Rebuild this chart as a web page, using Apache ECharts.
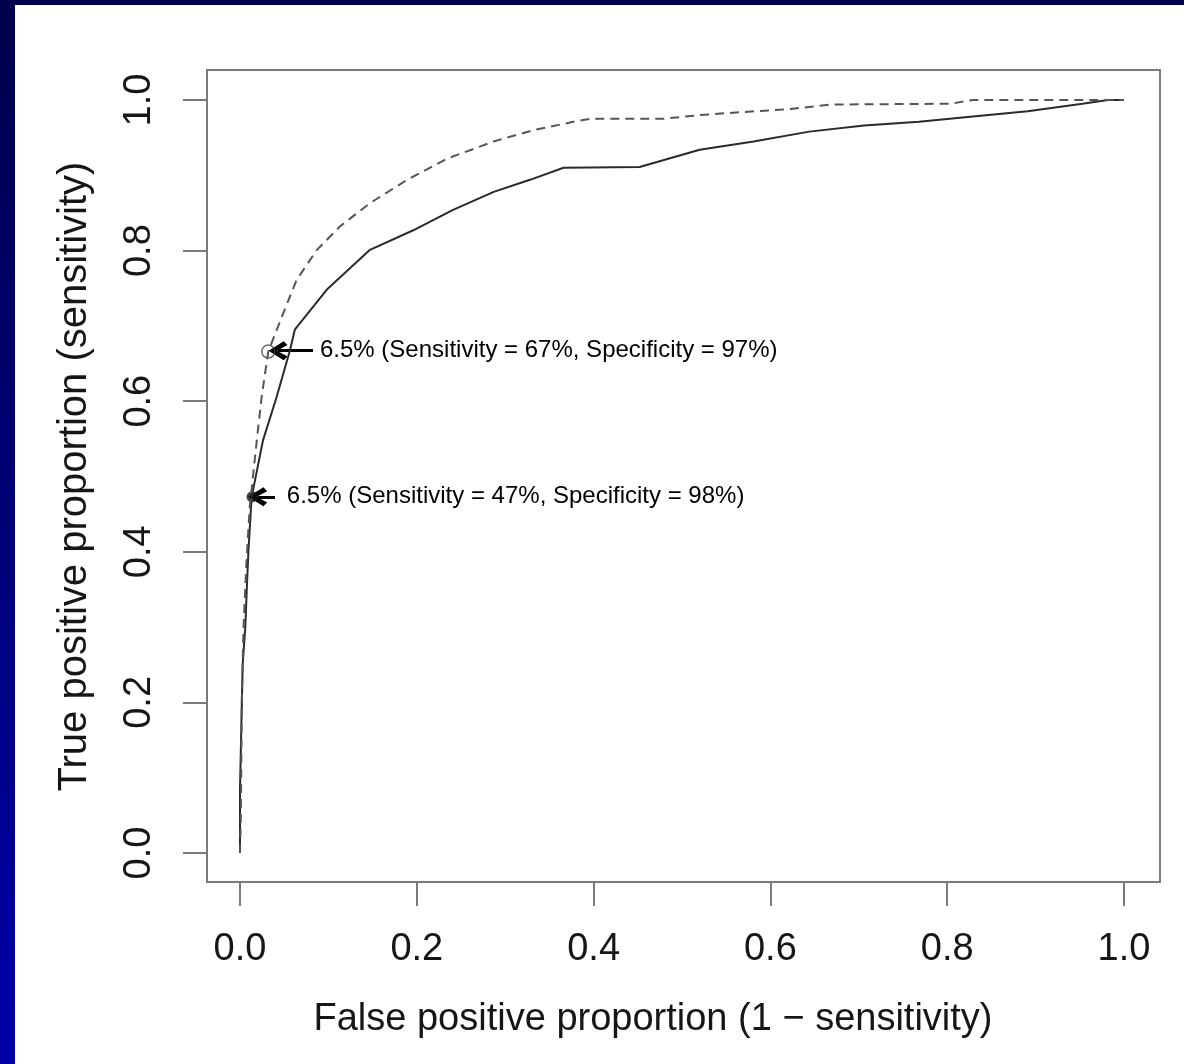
<!DOCTYPE html>
<html>
<head>
<meta charset="utf-8">
<title>ROC curves</title>
<script src="https://cdn.jsdelivr.net/npm/echarts@6/dist/echarts.min.js"></script>
<style>
    html, body { margin: 0; padding: 0; }
    body {
        width: 1184px; height: 1064px; position: relative; overflow: hidden;
        background: linear-gradient(to bottom, #00004c, #0000a8);
    }
    #panel { position: absolute; left: 15px; top: 5px; right: 0; bottom: 0; background: #fff; }
    #chart { position: absolute; left: 0; top: 0; width: 1184px; height: 1064px; }
</style>
</head>
<body>
<div id="panel"></div>
<div id="chart"></div>
<script>
"use strict";
// solid curve (false positive proportion, true positive proportion)
var solidFpr = [0, 0, 0.003, 0.006, 0.008, 0.0095, 0.011, 0.0132, 0.026, 0.0415, 0.0566, 0.062, 0.098, 0.147, 0.196, 0.241, 0.287, 0.328, 0.366, 0.452, 0.520, 0.581, 0.644, 0.706, 0.768, 0.829, 0.891, 0.953, 0.982, 1.0];
var solidTpr = [0, 0.085, 0.25, 0.30, 0.36, 0.40, 0.43, 0.473, 0.548, 0.606, 0.668, 0.695, 0.748, 0.801, 0.827, 0.854, 0.878, 0.894, 0.910, 0.911, 0.934, 0.945, 0.958, 0.966, 0.971, 0.978, 0.985, 0.995, 1.0, 1.0];

// dashed curve
var dashedFpr = [0, 0.001, 0.002, 0.004, 0.007, 0.011, 0.015, 0.019, 0.0245, 0.032, 0.049, 0.064, 0.087, 0.113, 0.147, 0.189, 0.234, 0.287, 0.332, 0.377, 0.396, 0.479, 0.52, 0.569, 0.623, 0.668, 0.804, 0.829, 1.0];
var dashedTpr = [0, 0.05, 0.2, 0.3, 0.38, 0.46, 0.504, 0.548, 0.606, 0.666, 0.717, 0.761, 0.801, 0.832, 0.863, 0.894, 0.922, 0.945, 0.960, 0.971, 0.975, 0.975, 0.980, 0.984, 0.988, 0.994, 0.995, 1.0, 1.0];

// cut-off points marked on the curves
var openPoint = [0.032, 0.666];
var filledPoint = [0.0136, 0.473];

// annotation arrows [from, to] and texts
var arrowOpen = [[0.0826, 0.667], [0.043, 0.667]];
var arrowFilled = [[0.0396, 0.473], [0.020, 0.473]];
var noteTexts = ['6.5% (Sensitivity = 67%, Specificity = 97%)', '6.5% (Sensitivity = 47%, Specificity = 98%)'];
var notePos = [[0.0905, 0.667], [0.053, 0.473]];

var xTitle = 'False positive proportion (1 \u2212 sensitivity)';
var yTitle = 'True positive proportion (sensitivity)';

function pairs(xs, ys) {
    return xs.map(function (x, i) { return [x, ys[i]]; });
}

var font = '"Liberation Sans", Arial, Helvetica, sans-serif';
var boxColor = '#7a7a7a';
var textColor = '#161616';
var chevron = 'path://M5,0 L10,8 L8,10 L5,4.5 L2,10 L0,8 Z';

var chart = echarts.init(document.getElementById('chart'));
var option = {
    animation: false,
    backgroundColor: 'transparent',
    grid: [
        {left: 207, top: 70, width: 953, height: 812, show: true, borderColor: boxColor, borderWidth: 2, backgroundColor: 'transparent'},
        {left: 240, top: 100, width: 884, height: 753}
    ],
    xAxis: [
        {gridIndex: 0, type: 'value', min: -0.04, max: 1.04, show: false},
        {
            gridIndex: 1, type: 'value', min: 0, max: 1, interval: 0.2, position: 'bottom', offset: 29,
            axisLine: {show: true, onZero: false, lineStyle: {color: boxColor, width: 2}},
            axisTick: {show: true, length: 24, lineStyle: {color: boxColor, width: 2}},
            splitLine: {show: false},
            axisLabel: {
                margin: 49, fontSize: 38, fontFamily: font, color: textColor,
                formatter: function (v) { return v.toFixed(1); }
            },
            name: xTitle, nameLocation: 'middle', nameGap: 119,
            nameTextStyle: {fontSize: 38, fontFamily: font, color: textColor, padding: [0, 58, 0, 0]}
        }
    ],
    yAxis: [
        {gridIndex: 0, type: 'value', min: -0.04, max: 1.04, show: false},
        {
            gridIndex: 1, type: 'value', min: 0, max: 1, interval: 0.2, position: 'left', offset: 33,
            axisLine: {show: true, onZero: false, lineStyle: {color: boxColor, width: 2}},
            axisTick: {show: true, length: 24, lineStyle: {color: boxColor, width: 2}},
            splitLine: {show: false},
            axisLabel: {
                margin: 48, rotate: 90, fontSize: 38, fontFamily: font, color: textColor,
                formatter: function (v) { return v.toFixed(1); }
            },
            name: yTitle, nameLocation: 'middle', nameGap: 112, nameRotate: 90,
            nameTextStyle: {fontSize: 40, fontFamily: font, color: textColor}
        }
    ],
    series: [
        {
            name: 'solid', type: 'line', xAxisIndex: 1, yAxisIndex: 1, clip: false,
            showSymbol: false, silent: true,
            lineStyle: {color: '#2a2a2a', width: 2},
            data: pairs(solidFpr, solidTpr)
        },
        {
            name: 'dashed', type: 'line', xAxisIndex: 1, yAxisIndex: 1, clip: false,
            showSymbol: false, silent: true,
            lineStyle: {color: '#555', width: 2, type: [9, 6]},
            data: pairs(dashedFpr, dashedTpr)
        },
        {
            name: 'open', type: 'scatter', xAxisIndex: 1, yAxisIndex: 1, silent: true,
            symbol: 'circle', symbolSize: 13,
            itemStyle: {color: 'rgba(0,0,0,0)', borderColor: '#444', borderWidth: 1.5},
            data: [openPoint]
        },
        {
            name: 'filled', type: 'scatter', xAxisIndex: 1, yAxisIndex: 1, silent: true,
            symbol: 'circle', symbolSize: 11,
            itemStyle: {color: '#111'},
            data: [filledPoint]
        },
        {
            name: 'arrows', type: 'lines', coordinateSystem: 'cartesian2d', xAxisIndex: 1, yAxisIndex: 1,
            silent: true, symbol: ['none', chevron], symbolSize: 19,
            lineStyle: {color: '#000', width: 3, opacity: 1},
            data: [{coords: arrowOpen}, {coords: arrowFilled}]
        },
        {
            name: 'notes', type: 'scatter', xAxisIndex: 1, yAxisIndex: 1, silent: true,
            symbolSize: 0, itemStyle: {color: '#fff', opacity: 1},
            label: {
                show: true, position: 'right', distance: 0, formatter: '{b}',
                fontSize: 24, fontFamily: font, color: '#000', opacity: 1
            },
            data: notePos.map(function (p, i) { return {name: noteTexts[i], value: p}; })
        }
    ]
};
chart.setOption(option);
</script>
</body>
</html>
